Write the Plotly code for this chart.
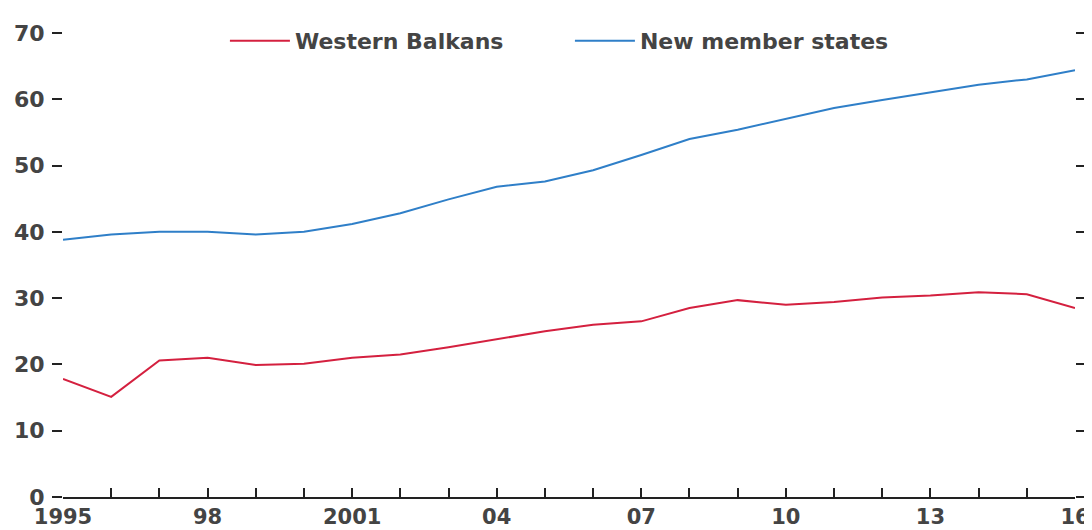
import plotly.graph_objects as go

years = list(range(1995, 2017))
western_balkans = [17.8, 15.1, 20.6, 21.0, 19.9, 20.1, 21.0, 21.5, 22.6, 23.8, 25.0, 26.0, 26.5,
                   28.5, 29.7, 29.0, 29.4, 30.1, 30.4, 30.9, 30.6, 28.5]
new_member_states = [38.8, 39.6, 40.0, 40.0, 39.6, 40.0, 41.2, 42.8, 44.9, 46.8, 47.6, 49.3, 51.6,
                     54.0, 55.4, 57.1, 58.7, 59.9, 61.0, 62.2, 63.0, 64.4]
x_labels = {1995: "1995", 1998: "98", 2001: "2001", 2004: "04", 2007: "07",
            2010: "10", 2013: "13", 2016: "16"}
y_ticks = [0, 10, 20, 30, 40, 50, 60, 70]

RED = "#d4203f"
BLUE = "#2f7fc8"
TXT = "#444444"
FONT = "DejaVu Sans"
FS = 22


def b(s):
    return "<b>" + s + "</b>" if s else s


fig = go.Figure()
fig.add_trace(go.Scatter(x=years, y=western_balkans, mode="lines", name=b("Western Balkans"),
                         line=dict(color=RED, width=2)))
fig.add_trace(go.Scatter(x=years, y=new_member_states, mode="lines", name=b("New member states"),
                         line=dict(color=BLUE, width=2)))

fig.update_layout(
    width=1092, height=530,
    margin=dict(l=55, r=25, t=13, b=41),
    paper_bgcolor="white", plot_bgcolor="white",
    font=dict(family=FONT, size=FS, color=TXT),
    showlegend=True,
    legend=dict(orientation="h", x=0.16, xanchor="left", y=0.983, yanchor="middle",
                bgcolor="rgba(0,0,0,0)", font=dict(family=FONT, size=FS, color=TXT),
                itemwidth=60, entrywidth=270),
    xaxis=dict(
        range=[1995, 2016],
        tickmode="array",
        tickvals=years,
        ticktext=[b(x_labels.get(y, "")) for y in years],
        ticks="inside", ticklen=9, tickwidth=2, tickcolor="#222",
        showline=True, linecolor="#222", linewidth=2,
        showgrid=False, zeroline=False, automargin=False,
        ticklabelstandoff=0,
        tickfont=dict(family=FONT, size=21, color=TXT),
    ),
    yaxis=dict(
        range=[0, 70],
        tickmode="array", tickvals=y_ticks,
        ticktext=[b(str(v)) for v in y_ticks],
        ticks="outside", ticklen=10, tickwidth=2, tickcolor="#222",
        mirror="ticks", automargin=False,
        showline=False, showgrid=False, zeroline=False,
        ticklabelstandoff=3,
        tickfont=dict(family=FONT, size=FS, color=TXT),
    ),
)

fig.write_html("out.html")
